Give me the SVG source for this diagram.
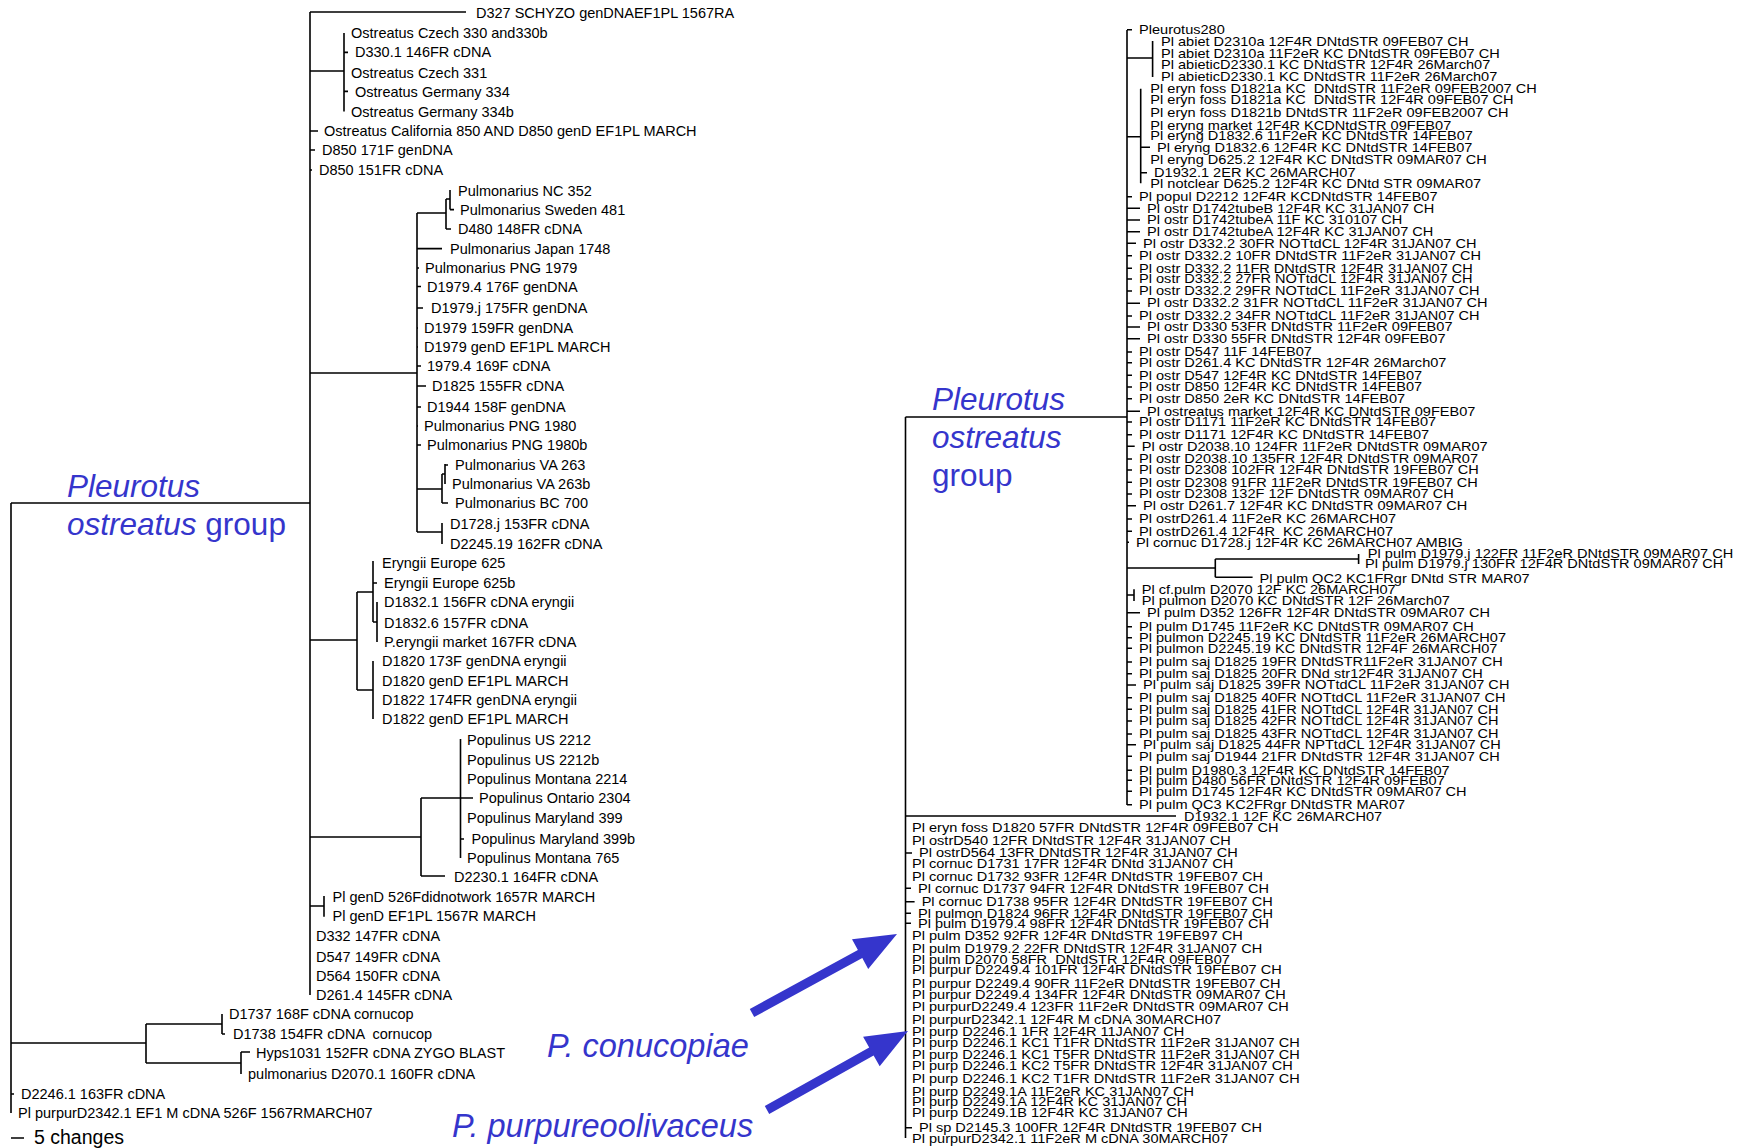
<svg xmlns="http://www.w3.org/2000/svg" width="1748" height="1148" viewBox="0 0 1748 1148">
<style>
.t{font-family:"Liberation Sans",Arial,sans-serif;font-size:14.5px;fill:#000;dominant-baseline:central;white-space:pre}
.r{font-family:"Liberation Sans",Arial,sans-serif;font-size:13px;fill:#000;dominant-baseline:central;white-space:pre}
.b{font-family:"Liberation Sans",Arial,sans-serif;font-size:31.5px;fill:#3535cc}
.p{font-size:32.5px}
.i{font-style:italic}
.ln{fill:none;stroke:#000;stroke-width:1.6}
.ar{fill:#3535cc}
</style>
<rect width="1748" height="1148" fill="#fff"/>
<g id="connectors">
<path class="ln" d="M11 503V1113M11 503H310M310 12V995M310 12H466M310 71H344M344 33V111.5M344 52.4H348M344 91.4H348M310 131H318M310 150H315M310 170H312M310 373H417M417 213V532M417 213H446M446 199V229M446 199H450M450 190V209.6M450 209.6H454M446 229H451M417 248.6H442M417 268H419M417 286.5H421M417 308H423M417 328H418M417 347H418M417 366H421M417 386H426M417 407H421M417 426H418M417 445H421M417 489H442M442 474V503M442 474H445M445 464V484M445 465H448M442 503H448M417 532H442M442 523V544M310 640H357M357 592V690M357 592H373M373 561V622M373 583H377M373 622H377M377 602V642M357 690H373M373 661V719M310 837H421M421 798V876M421 798H460.5M460.5 739V858M460.5 798H473M460.5 839H464M421 876H445M310 906H324M324 896V916.7M11 1043H146M146 1024V1063M146 1024H222M222 1014V1034M222 1034H225M146 1063H241M241 1052V1074M241 1052H250M11 1094H14M11 1138H24"/>
<path class="ln" d="M905.5 417V1138M905.5 417H1127M1127 30V805M1127 29.7H1132M1127 58H1152.6M1152.6 41V77M1127 136.7H1140.7M1140.7 88.7V183.3M1140.7 147.3H1150M1140.7 172.7H1147M1127 196.7H1132M1127 208.3H1140M1127 220H1140M1127 231.7H1140M1127 243.3H1136M1127 255.7H1132M1127 268.3H1132M1127 279H1132M1127 291H1132M1127 303.2H1140M1127 316H1132M1127 327H1140M1127 338.7H1140M1127 352H1132M1127 362.7H1132M1127 375.3H1132M1127 387H1132M1127 398.7H1132M1127 411.3H1140M1127 422H1132M1127 434.7H1132M1127 446.3H1134.7M1127 459H1132M1127 470H1132M1127 482.3H1132M1127 494H1132M1127 505.7H1136M1127 519H1132M1127 531.3H1132M1127 542.3H1129M1127 568H1215.3M1215.3 559V577.3M1215.3 559H1358.6M1358.6 554V564M1215.3 577.3H1252.6M1127 595H1134M1134 589.3V601M1127 612.7H1140M1127 626.7H1132M1127 637.7H1132M1127 648.3H1132M1127 662H1132M1127 673.7H1132M1127 685H1136M1127 697.7H1132M1127 709.3H1132M1127 721H1132M1127 734H1132M1127 744.7H1136M1127 756.3H1132M1127 770.3H1132M1127 780.3H1132M1127 791.3H1132M1127 804.7H1132M905.5 816H1176M905.5 853H912M905.5 888.3H911M905.5 901.7H914.6M905.5 913.3H911M905.5 923.3H911M905.5 1127.7H912"/>
</g>
<g id="annotations">
<g id="label-left"><text class="b" x="67" y="497"><tspan class="i">Pleurotus</tspan></text><text class="b" x="67" y="535"><tspan class="i">ostreatus</tspan> group</text></g>
<g id="label-right"><text class="b i" x="932" y="410">Pleurotus</text><text class="b i" x="932" y="448">ostreatus</text><text class="b" x="932" y="486">group</text></g>
<g id="label-cornucopiae"><text class="b i p" x="547" y="1057">P. conucopiae</text></g>
<g id="label-purpureo"><text class="b i p" x="452" y="1137">P. purpureoolivaceus</text></g>
<g id="arrow1"><polygon class="ar" points="754.2,1017 862.3,958.1 868.2,969 897,934 852,939.2 857.9,950.1 749.8,1009"/></g>
<g id="arrow2"><polygon class="ar" points="769.2,1113.9 873.6,1055.4 879.7,1066.3 908,1031 863.1,1036.7 869.2,1047.6 764.8,1106.1"/></g>
<g id="scalebar"><text x="34" y="1144" style="font-family:'Liberation Sans',Arial,sans-serif;font-size:19.5px">5 changes</text></g>
</g>
<g id="left-tree">
<g id="L1"><text class="t" x="476" y="13">D327 SCHYZO genDNAEF1PL 1567RA</text></g>
<g id="L2"><text class="t" x="351" y="33.3">Ostreatus Czech 330 and330b</text></g>
<g id="L3"><text class="t" x="355" y="52.3">D330.1 146FR cDNA</text></g>
<g id="L4"><text class="t" x="351" y="72.7">Ostreatus Czech 331</text></g>
<g id="L5"><text class="t" x="355" y="92.3">Ostreatus Germany 334</text></g>
<g id="L6"><text class="t" x="351" y="112.3">Ostreatus Germany 334b</text></g>
<g id="L7"><text class="t" x="324" y="131">Ostreatus California 850 AND D850 genD EF1PL MARCH</text></g>
<g id="L8"><text class="t" x="322" y="150.3">D850 171F genDNA</text></g>
<g id="L9"><text class="t" x="319" y="170">D850 151FR cDNA</text></g>
<g id="L10"><text class="t" x="458" y="191">Pulmonarius NC 352</text></g>
<g id="L11"><text class="t" x="460" y="210">Pulmonarius Sweden 481</text></g>
<g id="L12"><text class="t" x="458" y="229.3">D480 148FR cDNA</text></g>
<g id="L13"><text class="t" x="450" y="249.3">Pulmonarius Japan 1748</text></g>
<g id="L14"><text class="t" x="425" y="268">Pulmonarius PNG 1979</text></g>
<g id="L15"><text class="t" x="427" y="286.5">D1979.4 176F genDNA</text></g>
<g id="L16"><text class="t" x="431" y="308.3">D1979.j 175FR genDNA</text></g>
<g id="L17"><text class="t" x="424" y="328.3">D1979 159FR genDNA</text></g>
<g id="L18"><text class="t" x="424" y="347.3">D1979 genD EF1PL MARCH</text></g>
<g id="L19"><text class="t" x="427" y="366.3">1979.4 169F cDNA</text></g>
<g id="L20"><text class="t" x="432" y="386.3">D1825 155FR cDNA</text></g>
<g id="L21"><text class="t" x="427" y="407">D1944 158F genDNA</text></g>
<g id="L22"><text class="t" x="424" y="426">Pulmonarius PNG 1980</text></g>
<g id="L23"><text class="t" x="427" y="445">Pulmonarius PNG 1980b</text></g>
<g id="L24"><text class="t" x="455" y="465">Pulmonarius VA 263</text></g>
<g id="L25"><text class="t" x="452" y="484">Pulmonarius VA 263b</text></g>
<g id="L26"><text class="t" x="455" y="502.7">Pulmonarius BC 700</text></g>
<g id="L27"><text class="t" x="450" y="524">D1728.j 153FR cDNA</text></g>
<g id="L28"><text class="t" x="450" y="544">D2245.19 162FR cDNA</text></g>
<g id="L29"><text class="t" x="382" y="563.3">Eryngii Europe 625</text></g>
<g id="L30"><text class="t" x="384" y="583">Eryngii Europe 625b</text></g>
<g id="L31"><text class="t" x="384" y="602.3">D1832.1 156FR cDNA eryngii</text></g>
<g id="L32"><text class="t" x="384" y="623">D1832.6 157FR cDNA</text></g>
<g id="L33"><text class="t" x="384" y="642.3">P.eryngii market 167FR cDNA</text></g>
<g id="L34"><text class="t" x="382" y="661.3">D1820 173F genDNA eryngii</text></g>
<g id="L35"><text class="t" x="382" y="681">D1820 genD EF1PL MARCH</text></g>
<g id="L36"><text class="t" x="382" y="700">D1822 174FR genDNA eryngii</text></g>
<g id="L37"><text class="t" x="382" y="719">D1822 genD EF1PL MARCH</text></g>
<g id="L38"><text class="t" x="467" y="740">Populinus US 2212</text></g>
<g id="L39"><text class="t" x="467" y="760">Populinus US 2212b</text></g>
<g id="L40"><text class="t" x="467" y="779.3">Populinus Montana 2214</text></g>
<g id="L41"><text class="t" x="479" y="798.3">Populinus Ontario 2304</text></g>
<g id="L42"><text class="t" x="467" y="818.3">Populinus Maryland 399</text></g>
<g id="L43"><text class="t" x="471.5" y="839">Populinus Maryland 399b</text></g>
<g id="L44"><text class="t" x="467" y="857.7">Populinus Montana 765</text></g>
<g id="L45"><text class="t" x="454" y="877">D2230.1 164FR cDNA</text></g>
<g id="L46"><text class="t" x="332.5" y="896.7">Pl genD 526Fdidnotwork 1657R MARCH</text></g>
<g id="L47"><text class="t" x="332.5" y="915.7">Pl genD EF1PL 1567R MARCH</text></g>
<g id="L48"><text class="t" x="316" y="936">D332 147FR cDNA</text></g>
<g id="L49"><text class="t" x="316" y="956.7">D547 149FR cDNA</text></g>
<g id="L50"><text class="t" x="316" y="976">D564 150FR cDNA</text></g>
<g id="L51"><text class="t" x="316" y="995">D261.4 145FR cDNA</text></g>
<g id="L52"><text class="t" x="229" y="1014.3">D1737 168F cDNA cornucop</text></g>
<g id="L53"><text class="t" x="233" y="1034">D1738 154FR cDNA  cornucop</text></g>
<g id="L54"><text class="t" x="256" y="1052.7">Hyps1031 152FR cDNA ZYGO BLAST</text></g>
<g id="L55"><text class="t" x="248" y="1074">pulmonarius D2070.1 160FR cDNA</text></g>
<g id="L56"><text class="t" x="21" y="1094">D2246.1 163FR cDNA</text></g>
<g id="L57"><text class="t" x="18" y="1113.3">Pl purpurD2342.1 EF1 M cDNA 526F 1567RMARCH07</text></g>
</g>
<g id="right-tree" transform="scale(1.12 1)">
<g id="R1"><text class="r" x="1017" y="29.7">Pleurotus280</text></g>
<g id="R2"><text class="r" x="1036.6" y="41.3">Pl abiet D2310a 12F4R DNtdSTR 09FEB07 CH</text></g>
<g id="R3"><text class="r" x="1036.6" y="53.3">Pl abiet D2310a 11F2eR KC DNtdSTR 09FEB07 CH</text></g>
<g id="R4"><text class="r" x="1036.6" y="64.7">Pl abieticD2330.1 KC DNtdSTR 12F4R 26March07</text></g>
<g id="R5"><text class="r" x="1036.6" y="76.7">Pl abieticD2330.1 KC DNtdSTR 11F2eR 26March07</text></g>
<g id="R6"><text class="r" x="1027.1" y="88.7">Pl eryn foss D1821a KC  DNtdSTR 11F2eR 09FEB2007 CH</text></g>
<g id="R7"><text class="r" x="1027.1" y="100">Pl eryn foss D1821a KC  DNtdSTR 12F4R 09FEB07 CH</text></g>
<g id="R8"><text class="r" x="1027.1" y="113">Pl eryn foss D1821b DNtdSTR 11F2eR 09FEB2007 CH</text></g>
<g id="R9"><text class="r" x="1027.1" y="125.3">Pl eryng market 12F4R KCDNtdSTR 09FEB07</text></g>
<g id="R10"><text class="r" x="1027.1" y="136">Pl eryng D1832.6 11F2eR KC DNtdSTR 14FEB07</text></g>
<g id="R11"><text class="r" x="1033" y="147.3">Pl eryng D1832.6 12F4R KC DNtdSTR 14FEB07</text></g>
<g id="R12"><text class="r" x="1027.1" y="159.7">Pl eryng D625.2 12F4R KC DNtdSTR 09MAR07 CH</text></g>
<g id="R13"><text class="r" x="1030.4" y="172.7">D1932.1 2ER KC 26MARCH07</text></g>
<g id="R14"><text class="r" x="1027.1" y="183.3">Pl notclear D625.2 12F4R KC DNtd STR 09MAR07</text></g>
<g id="R15"><text class="r" x="1017" y="196.7">Pl popul D2212 12F4R KCDNtdSTR 14FEB07</text></g>
<g id="R16"><text class="r" x="1024.1" y="208.3">Pl ostr D1742tubeB 12F4R KC 31JAN07 CH</text></g>
<g id="R17"><text class="r" x="1024.1" y="220">Pl ostr D1742tubeA 11F KC 310107 CH</text></g>
<g id="R18"><text class="r" x="1024.1" y="231.7">Pl ostr D1742tubeA 12F4R KC 31JAN07 CH</text></g>
<g id="R19"><text class="r" x="1020.5" y="243.3">Pl ostr D332.2 30FR NOTtdCL 12F4R 31JAN07 CH</text></g>
<g id="R20"><text class="r" x="1017" y="255.7">Pl ostr D332.2 10FR DNtdSTR 11F2eR 31JAN07 CH</text></g>
<g id="R21"><text class="r" x="1017" y="268.3">Pl ostr D332.2 11FR DNtdSTR 12F4R 31JAN07 CH</text></g>
<g id="R22"><text class="r" x="1017" y="279">Pl ostr D332.2 27FR NOTtdCL 12F4R 31JAN07 CH</text></g>
<g id="R23"><text class="r" x="1017" y="291">Pl ostr D332.2 29FR NOTtdCL 11F2eR 31JAN07 CH</text></g>
<g id="R24"><text class="r" x="1024.1" y="303.2">Pl ostr D332.2 31FR NOTtdCL 11F2eR 31JAN07 CH</text></g>
<g id="R25"><text class="r" x="1017" y="316">Pl ostr D332.2 34FR NOTtdCL 11F2eR 31JAN07 CH</text></g>
<g id="R26"><text class="r" x="1024.1" y="327">Pl ostr D330 53FR DNtdSTR 11F2eR 09FEB07</text></g>
<g id="R27"><text class="r" x="1024.1" y="338.7">Pl ostr D330 55FR DNtdSTR 12F4R 09FEB07</text></g>
<g id="R28"><text class="r" x="1017" y="352">Pl ostr D547 11F 14FEB07</text></g>
<g id="R29"><text class="r" x="1017" y="362.7">Pl ostr D261.4 KC DNtdSTR 12F4R 26March07</text></g>
<g id="R30"><text class="r" x="1017" y="375.3">Pl ostr D547 12F4R KC DNtdSTR 14FEB07</text></g>
<g id="R31"><text class="r" x="1017" y="387">Pl ostr D850 12F4R KC DNtdSTR 14FEB07</text></g>
<g id="R32"><text class="r" x="1017" y="398.7">Pl ostr D850 2eR KC DNtdSTR 14FEB07</text></g>
<g id="R33"><text class="r" x="1024.1" y="411.3">Pl ostreatus market 12F4R KC DNtdSTR 09FEB07</text></g>
<g id="R34"><text class="r" x="1017" y="422">Pl ostr D1171 11F2eR KC DNtdSTR 14FEB07</text></g>
<g id="R35"><text class="r" x="1017" y="434.7">Pl ostr D1171 12F4R KC DNtdSTR 14FEB07</text></g>
<g id="R36"><text class="r" x="1019.4" y="446.3">Pl ostr D2038.10 124FR 11F2eR DNtdSTR 09MAR07</text></g>
<g id="R37"><text class="r" x="1017" y="459">Pl ostr D2038.10 135FR 12F4R DNtdSTR 09MAR07</text></g>
<g id="R38"><text class="r" x="1017" y="470">Pl ostr D2308 102FR 12F4R DNtdSTR 19FEB07 CH</text></g>
<g id="R39"><text class="r" x="1017" y="482.3">Pl ostr D2308 91FR 11F2eR DNtdSTR 19FEB07 CH</text></g>
<g id="R40"><text class="r" x="1017" y="494">Pl ostr D2308 132F 12F DNtdSTR 09MAR07 CH</text></g>
<g id="R41"><text class="r" x="1020.5" y="505.7">Pl ostr D261.7 12F4R KC DNtdSTR 09MAR07 CH</text></g>
<g id="R42"><text class="r" x="1017" y="519">Pl ostrD261.4 11F2eR KC 26MARCH07</text></g>
<g id="R43"><text class="r" x="1017" y="531.3">Pl ostrD261.4 12F4R  KC 26MARCH07</text></g>
<g id="R44"><text class="r" x="1014.3" y="542.3">Pl cornuc D1728.j 12F4R KC 26MARCH07 AMBIG</text></g>
<g id="R45"><text class="r" x="1221.3" y="554">Pl pulm D1979.j 122FR 11F2eR DNtdSTR 09MAR07 CH</text></g>
<g id="R46"><text class="r" x="1218.8" y="564">Pl pulm D1979.j 130FR 12F4R DNtdSTR 09MAR07 CH</text></g>
<g id="R47"><text class="r" x="1124.6" y="579">Pl pulm QC2 KC1FRgr DNtd STR MAR07</text></g>
<g id="R48"><text class="r" x="1019.4" y="589.3">Pl cf.pulm D2070 12F KC 26MARCH07</text></g>
<g id="R49"><text class="r" x="1019.4" y="601">Pl pulmon D2070 KC DNtdSTR 12F 26March07</text></g>
<g id="R50"><text class="r" x="1024.1" y="612.7">Pl pulm D352 126FR 12F4R DNtdSTR 09MAR07 CH</text></g>
<g id="R51"><text class="r" x="1017" y="626.7">Pl pulm D1745 11F2eR KC DNtdSTR 09MAR07 CH</text></g>
<g id="R52"><text class="r" x="1017" y="637.7">Pl pulmon D2245.19 KC DNtdSTR 11F2eR 26MARCH07</text></g>
<g id="R53"><text class="r" x="1017" y="648.3">Pl pulmon D2245.19 KC DNtdSTR 12F4F 26MARCH07</text></g>
<g id="R54"><text class="r" x="1017" y="662">Pl pulm saj D1825 19FR DNtdSTR11F2eR 31JAN07 CH</text></g>
<g id="R55"><text class="r" x="1017" y="673.7">Pl pulm saj D1825 20FR DNd str12F4R 31JAN07 CH</text></g>
<g id="R56"><text class="r" x="1020.5" y="685">Pl pulm saj D1825 39FR NOTtdCL 11F2eR 31JAN07 CH</text></g>
<g id="R57"><text class="r" x="1017" y="697.7">Pl pulm saj D1825 40FR NOTtdCL 11F2eR 31JAN07 CH</text></g>
<g id="R58"><text class="r" x="1017" y="709.3">Pl pulm saj D1825 41FR NOTtdCL 12F4R 31JAN07 CH</text></g>
<g id="R59"><text class="r" x="1017" y="721">Pl pulm saj D1825 42FR NOTtdCL 12F4R 31JAN07 CH</text></g>
<g id="R60"><text class="r" x="1017" y="734">Pl pulm saj D1825 43FR NOTtdCL 12F4R 31JAN07 CH</text></g>
<g id="R61"><text class="r" x="1020.5" y="744.7">Pl pulm saj D1825 44FR NPTtdCL 12F4R 31JAN07 CH</text></g>
<g id="R62"><text class="r" x="1017" y="756.3">Pl pulm saj D1944 21FR DNtdSTR 12F4R 31JAN07 CH</text></g>
<g id="R63"><text class="r" x="1017" y="770.3">Pl pulm D1980.3 12F4R KC DNtdSTR 14FEB07</text></g>
<g id="R64"><text class="r" x="1017" y="780.3">Pl pulm D480 56FR DNtdSTR 12F4R 09FEB07</text></g>
<g id="R65"><text class="r" x="1017" y="791.3">Pl pulm D1745 12F4R KC DNtdSTR 09MAR07 CH</text></g>
<g id="R66"><text class="r" x="1017" y="804.7">Pl pulm QC3 KC2FRgr DNtdSTR MAR07</text></g>
<g id="R67"><text class="r" x="1057.1" y="816.3">D1932.1 12F KC 26MARCH07</text></g>
<g id="R68"><text class="r" x="814.3" y="827.3">Pl eryn foss D1820 57FR DNtdSTR 12F4R 09FEB07 CH</text></g>
<g id="R69"><text class="r" x="814.3" y="840.3">Pl ostrD540 12FR DNtdSTR 12F4R 31JAN07 CH</text></g>
<g id="R70"><text class="r" x="820.5" y="853">Pl ostrD564 13FR DNtdSTR 12F4R 31JAN07 CH</text></g>
<g id="R71"><text class="r" x="814.3" y="864">Pl cornuc D1731 17FR 12F4R DNtd 31JAN07 CH</text></g>
<g id="R72"><text class="r" x="814.3" y="876.7">Pl cornuc D1732 93FR 12F4R DNtdSTR 19FEB07 CH</text></g>
<g id="R73"><text class="r" x="819.6" y="888.3">Pl cornuc D1737 94FR 12F4R DNtdSTR 19FEB07 CH</text></g>
<g id="R74"><text class="r" x="822.9" y="901.7">Pl cornuc D1738 95FR 12F4R DNtdSTR 19FEB07 CH</text></g>
<g id="R75"><text class="r" x="819.6" y="913.3">Pl pulmon D1824 96FR 12F4R DNtdSTR 19FEB07 CH</text></g>
<g id="R76"><text class="r" x="819.6" y="923.3">Pl pulm D1979.4 98FR 12F4R DNtdSTR 19FEB07 CH</text></g>
<g id="R77"><text class="r" x="814.3" y="935.7">Pl pulm D352 92FR 12F4R DNtdSTR 19FEB97 CH</text></g>
<g id="R78"><text class="r" x="814.3" y="948.3">Pl pulm D1979.2 22FR DNtdSTR 12F4R 31JAN07 CH</text></g>
<g id="R79"><text class="r" x="814.3" y="960">Pl pulm D2070 58FR  DNtdSTR 12F4R 09FEB07</text></g>
<g id="R80"><text class="r" x="814.3" y="970">Pl purpur D2249.4 101FR 12F4R DNtdSTR 19FEB07 CH</text></g>
<g id="R81"><text class="r" x="814.3" y="983.3">Pl purpur D2249.4 90FR 11F2eR DNtdSTR 19FEB07 CH</text></g>
<g id="R82"><text class="r" x="814.3" y="995">Pl purpur D2249.4 134FR 12F4R DNtdSTR 09MAR07 CH</text></g>
<g id="R83"><text class="r" x="814.3" y="1006.7">Pl purpurD2249.4 123FR 11F2eR DNtdSTR 09MAR07 CH</text></g>
<g id="R84"><text class="r" x="814.3" y="1020">Pl purpurD2342.1 12F4R M cDNA 30MARCH07</text></g>
<g id="R85"><text class="r" x="814.3" y="1031.7">Pl purp D2246.1 1FR 12F4R 11JAN07 CH</text></g>
<g id="R86"><text class="r" x="814.3" y="1042.7">Pl purp D2246.1 KC1 T1FR DNtdSTR 11F2eR 31JAN07 CH</text></g>
<g id="R87"><text class="r" x="814.3" y="1055">Pl purp D2246.1 KC1 T5FR DNtdSTR 11F2eR 31JAN07 CH</text></g>
<g id="R88"><text class="r" x="814.3" y="1066">Pl purp D2246.1 KC2 T5FR DNtdSTR 12F4R 31JAN07 CH</text></g>
<g id="R89"><text class="r" x="814.3" y="1078.3">Pl purp D2246.1 KC2 T1FR DNtdSTR 11F2eR 31JAN07 CH</text></g>
<g id="R90"><text class="r" x="814.3" y="1091.7">Pl purp D2249.1A 11F2eR KC 31JAN07 CH</text></g>
<g id="R91"><text class="r" x="814.3" y="1101.7">Pl purp D2249.1A 12F4R KC 31JAN07 CH</text></g>
<g id="R92"><text class="r" x="814.3" y="1112.7">Pl purp D2249.1B 12F4R KC 31JAN07 CH</text></g>
<g id="R93"><text class="r" x="820.5" y="1127.7">Pl sp D2145.3 100FR 12F4R DNtdSTR 19FEB07 CH</text></g>
<g id="R94"><text class="r" x="814.3" y="1138.3">Pl purpurD2342.1 11F2eR M cDNA 30MARCH07</text></g>
</g>
</svg>
